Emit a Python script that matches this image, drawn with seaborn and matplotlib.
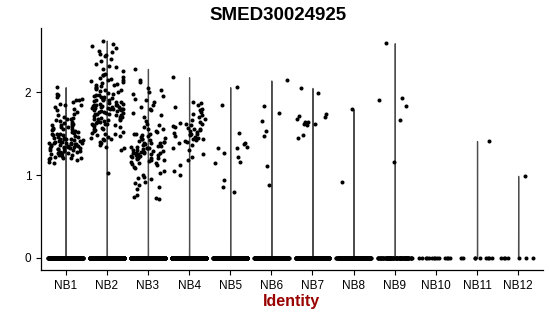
import numpy as np
import pandas as pd
import matplotlib
matplotlib.use("Agg")
import matplotlib.pyplot as plt
import seaborn as sns

title = "SMED30024925"
x_label = "Identity"
categories = ["NB1", "NB2", "NB3", "NB4", "NB5", "NB6", "NB7", "NB8", "NB9", "NB10", "NB11", "NB12"]
y_ticks = [0, 1, 2]

# number of cells with zero expression per identity
zero_counts = [600, 600, 600, 600, 500, 300, 250, 200, 100, 14, 9, 7]

# non-zero expression values per identity
nb1 = [2.06, 1.98, 1.96, 1.94, 1.92, 1.91, 1.90, 1.88, 1.86, 1.85, 1.84, 1.82, 1.80, 1.78, 1.76, 1.74,
       1.72, 1.70, 1.69, 1.68, 1.67, 1.66, 1.65, 1.64, 1.63, 1.62, 1.61, 1.60, 1.60, 1.59, 1.58, 1.58,
       1.57, 1.56, 1.55, 1.55, 1.54, 1.53, 1.52, 1.52, 1.51, 1.50, 1.50, 1.49, 1.48, 1.48, 1.47, 1.46,
       1.46, 1.45, 1.45, 1.44, 1.44, 1.43, 1.43, 1.42, 1.42, 1.41, 1.41, 1.40, 1.40, 1.40, 1.39, 1.39,
       1.38, 1.38, 1.38, 1.37, 1.37, 1.37, 1.36, 1.36, 1.36, 1.35, 1.35, 1.35, 1.34, 1.34, 1.34, 1.33,
       1.33, 1.32, 1.32, 1.31, 1.31, 1.30, 1.30, 1.29, 1.29, 1.28, 1.28, 1.27, 1.27, 1.26, 1.26, 1.25,
       1.25, 1.24, 1.24, 1.23, 1.22, 1.21, 1.21, 1.20, 1.20, 1.19, 1.18, 1.16, 1.14]
nb2 = [2.62, 2.58, 2.55, 2.53, 2.50, 2.48, 2.46, 2.45, 2.44, 2.40, 2.37, 2.34, 2.32, 2.30, 2.28, 2.25,
       2.22, 2.21, 2.20, 2.18, 2.17, 2.16, 2.15, 2.14, 2.13, 2.12, 2.11, 2.10, 2.09, 2.08, 2.07, 2.06,
       2.05, 2.04, 2.03, 2.02, 2.01, 2.00, 1.99, 1.98, 1.97, 1.96, 1.95, 1.94, 1.94, 1.93, 1.92, 1.92,
       1.91, 1.90, 1.90, 1.89, 1.88, 1.88, 1.87, 1.86, 1.86, 1.85, 1.85, 1.84, 1.84, 1.83, 1.83, 1.82,
       1.82, 1.82, 1.81, 1.81, 1.81, 1.80, 1.80, 1.80, 1.79, 1.79, 1.78, 1.78, 1.77, 1.77, 1.76, 1.76,
       1.75, 1.75, 1.74, 1.74, 1.73, 1.72, 1.72, 1.71, 1.70, 1.70, 1.69, 1.68, 1.68, 1.67, 1.66, 1.66,
       1.65, 1.64, 1.64, 1.63, 1.62, 1.62, 1.61, 1.60, 1.60, 1.59, 1.58, 1.57, 1.56, 1.55, 1.54, 1.53,
       1.52, 1.51, 1.50, 1.49, 1.48, 1.47, 1.46, 1.45, 1.44, 1.43, 1.42, 1.40, 1.38, 1.36, 1.34, 1.32,
       1.30, 1.02]
nb3 = [2.28, 2.15, 2.12, 2.05, 2.02, 2.00, 1.98, 1.95, 1.92, 1.90, 1.88, 1.85, 1.82, 1.80, 1.78, 1.75,
       1.72, 1.70, 1.65, 1.62, 1.60, 1.58, 1.56, 1.55, 1.53, 1.52, 1.50, 1.50, 1.49, 1.48, 1.47, 1.46,
       1.45, 1.44, 1.43, 1.42, 1.41, 1.40, 1.40, 1.39, 1.38, 1.38, 1.37, 1.36, 1.35, 1.35, 1.34, 1.34,
       1.33, 1.32, 1.32, 1.31, 1.30, 1.30, 1.29, 1.29, 1.28, 1.28, 1.27, 1.27, 1.26, 1.26, 1.25, 1.25,
       1.24, 1.24, 1.23, 1.23, 1.22, 1.22, 1.21, 1.21, 1.20, 1.20, 1.19, 1.18, 1.18, 1.17, 1.16, 1.15,
       1.14, 1.13, 1.12, 1.10, 1.08, 1.05, 1.02, 1.00, 0.98, 0.97, 0.95, 0.92, 0.90, 0.88, 0.85, 0.83,
       0.76, 0.74, 0.72, 0.71]
nb4 = [2.18, 1.88, 1.87, 1.85, 1.82, 1.80, 1.78, 1.76, 1.74, 1.72, 1.70, 1.68, 1.66, 1.64, 1.63, 1.62,
       1.61, 1.60, 1.59, 1.58, 1.57, 1.56, 1.55, 1.54, 1.53, 1.52, 1.51, 1.50, 1.50, 1.49, 1.48, 1.47,
       1.46, 1.45, 1.44, 1.43, 1.42, 1.41, 1.40, 1.38, 1.36, 1.33, 1.30, 1.25, 1.22, 1.18, 1.12, 1.05,
       1.00]
nb5 = [2.06, 1.85, 1.51, 1.39, 1.37, 1.34, 1.33, 1.33, 1.27, 1.22, 1.16, 1.15, 0.94, 0.86, 0.80]
nb6 = [2.14, 1.83, 1.75, 1.65, 1.53, 1.47, 1.11, 0.88]
nb7 = [2.05, 1.99, 1.73, 1.71, 1.70, 1.67, 1.64, 1.64, 1.62, 1.61, 1.60, 1.48, 1.45]
nb8 = [1.79, 0.92]
nb9 = [2.59, 1.93, 1.90, 1.83, 1.66, 1.16]
nb10 = []
nb11 = [1.41]
nb12 = [0.99]
nonzero_values = [nb1, nb2, nb3, nb4, nb5, nb6, nb7, nb8, nb9, nb10, nb11, nb12]

rows = []
for cat, nz, vals in zip(categories, zero_counts, nonzero_values):
    for v in [0.0] * nz + list(vals):
        rows.append((cat, v))
df = pd.DataFrame(rows, columns=["ident", "value"])

sns.set_style("ticks")
plt.rcParams["font.family"] = ["Liberation Sans", "DejaVu Sans"]
plt.rcParams["text.color"] = "black"

fig = plt.figure(figsize=(5.5, 3.16), dpi=100)
ax = fig.add_axes([0.0745, 0.1456, 0.9125, 0.7654])

vdf = df[df["ident"].isin([c for c, v in zip(categories, nonzero_values) if len(v) > 0])]
sns.violinplot(data=vdf, x="ident", y="value", order=categories, cut=0,
               density_norm="width", width=0.006, inner=None, linewidth=0.9,
               color="white", linecolor="#4d4d4d", ax=ax)

np.random.seed(3)
sns.stripplot(data=df, x="ident", y="value", order=categories, jitter=0.42,
              size=2.9, color="black", linewidth=0, ax=ax)

ax.set_xlim(-0.6, 11.6)
ax.set_ylim(-0.145, 2.771)
ax.set_yticks(y_ticks)
ax.set_yticklabels([str(t) for t in y_ticks])
ax.set_xlabel(x_label, fontsize=11.5, fontweight="bold", color="#990000", labelpad=2)
ax.set_ylabel("")
ax.set_title(title, fontsize=13.5, fontweight="bold", pad=6, color="black",
             x=(278 - 41) / 502)
ax.tick_params(axis="both", labelsize=8.5, length=3.5, width=0.8, color="black", labelcolor="black")
for s in ["top", "right"]:
    ax.spines[s].set_visible(False)
for s in ["left", "bottom"]:
    ax.spines[s].set_color("black")
    ax.spines[s].set_linewidth(0.9)

fig.savefig("out.png", dpi=100)
